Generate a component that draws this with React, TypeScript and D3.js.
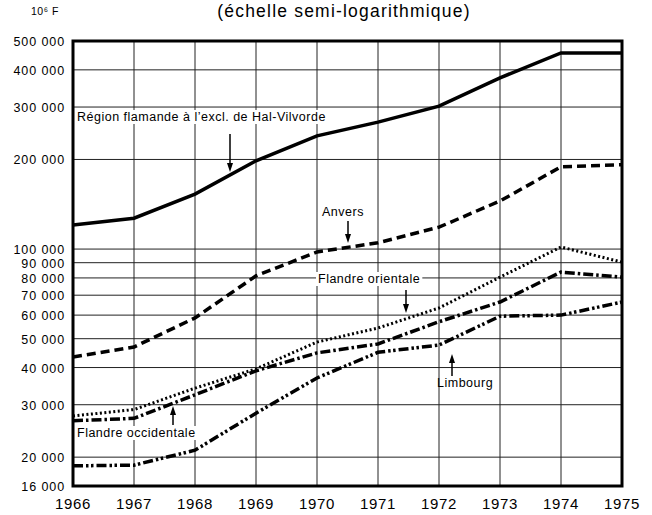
import { useEffect, useRef } from 'react';
import * as d3 from 'd3';

const years = [1966, 1967, 1968, 1969, 1970, 1971, 1972, 1973, 1974, 1975];
const yTicks = [16000, 20000, 30000, 40000, 50000, 60000, 70000, 80000, 90000, 100000, 200000, 300000, 400000, 500000];

const flamande = [120500, 127000, 153000, 198000, 240000, 267000, 302000, 376000, 456000, 456000];
const anvers = [43400, 46900, 58700, 81300, 97800, 105000, 118500, 145000, 189000, 192000];
const orientale = [27500, 28900, 34100, 39600, 48700, 54300, 63400, 80500, 101600, 90400];
const occidentale = [26500, 27000, 32400, 39000, 44800, 48000, 57000, 66400, 83700, 80500];
const limbourg = [18700, 18800, 21100, 28100, 36900, 45000, 47600, 59500, 60000, 66400];

const series = [
    { name: 'flamande', values: flamande, dash: null, width: 3.5 },
    { name: 'anvers', values: anvers, dash: '9,5', width: 3.5 },
    { name: 'orientale', values: orientale, dash: '2,2.5', width: 3 },
    { name: 'occidentale', values: occidentale, dash: '10,3,2.5,3', width: 3.5 },
    { name: 'limbourg', values: limbourg, dash: '10,3,2.5,2.5,2.5,3', width: 3.5 },
];

const fmt = (v: number) => d3.format(',')(v).replace(/,/g, ' ');

export default function App() {
    const ref = useRef<SVGSVGElement>(null);

    useEffect(() => {
        const svg = d3.select(ref.current);
        svg.selectAll('*').remove();
        const font = "'Liberation Sans', Arial, sans-serif";

        const left = 73, right = 622, top = 41, bottom = 486;
        const x = d3.scaleLinear().domain([1966, 1975]).range([left, right]);
        const y = d3.scaleLog().domain([16000, 500000]).range([bottom, top]);

        const g = svg.append('g');

        // grid
        g.selectAll('.vgrid').data(years.slice(1, -1)).join('line')
            .attr('x1', d => x(d)).attr('x2', d => x(d))
            .attr('y1', top).attr('y2', bottom)
            .attr('stroke', '#222').attr('stroke-width', 1);
        g.selectAll('.hgrid').data(yTicks.slice(1, -1)).join('line')
            .attr('x1', left).attr('x2', right)
            .attr('y1', d => y(d)).attr('y2', d => y(d))
            .attr('stroke', '#222').attr('stroke-width', 1);

        // frame
        g.append('rect')
            .attr('x', left).attr('y', top)
            .attr('width', right - left).attr('height', bottom - top)
            .attr('fill', 'none').attr('stroke', '#000').attr('stroke-width', 3);

        // y labels
        g.selectAll('.ylab').data(yTicks).join('text')
            .attr('x', 65).attr('y', d => y(d) + 5)
            .attr('text-anchor', 'end')
            .attr('font-family', font).attr('font-size', 12.5)
            .attr('letter-spacing', 0.9)
            .text(d => fmt(d));

        // x labels
        g.selectAll('.xlab').data(years).join('text')
            .attr('x', d => x(d)).attr('y', 509)
            .attr('text-anchor', 'middle')
            .attr('font-family', font).attr('font-size', 15)
            .attr('letter-spacing', 0.6)
            .text(d => d);

        // lines
        const line = d3.line<number>()
            .x((d, i) => x(years[i]))
            .y(d => y(d));

        series.forEach(s => {
            g.append('path')
                .datum(s.values)
                .attr('fill', 'none')
                .attr('stroke', '#000')
                .attr('stroke-width', s.width)
                .attr('stroke-dasharray', s.dash)
                .attr('d', line);
        });

        // labels with arrows
        const labels = [
            { text: "Région flamande à l\u2019excl. de Hal-Vilvorde", tx: 77, ty: 121, ax: 230, ay1: 134, ay2: 172, bg: true },
            { text: 'Anvers', tx: 322, ty: 216, ax: 348, ay1: 221, ay2: 243, bg: false },
            { text: 'Flandre orientale', tx: 318, ty: 283, ax: 406, ay1: 290, ay2: 313, bg: true },
            { text: 'Limbourg', tx: 437, ty: 387, ax: 452, ay1: 376, ay2: 354, bg: false },
            { text: 'Flandre occidentale', tx: 77, ty: 437, ax: 173, ay1: 425, ay2: 406, bg: true },
        ];

        labels.forEach(l => {
            const t = g.append('text')
                .attr('x', l.tx).attr('y', l.ty)
                .attr('font-family', font).attr('font-size', 12.5)
                .attr('letter-spacing', 0.5)
                .text(l.text);
            if (l.bg) {
                const b = (t.node() as SVGTextElement).getBBox();
                g.insert('rect', () => t.node())
                    .attr('x', b.x - 2).attr('y', b.y)
                    .attr('width', b.width + 4).attr('height', b.height)
                    .attr('fill', '#fff');
            }
            const dir = l.ay2 > l.ay1 ? 1 : -1;
            g.append('line')
                .attr('x1', l.ax).attr('x2', l.ax)
                .attr('y1', l.ay1).attr('y2', l.ay2 - dir * 8)
                .attr('stroke', '#000').attr('stroke-width', 1.5);
            g.append('path')
                .attr('d', `M${l.ax - 3},${l.ay2 - dir * 9} L${l.ax},${l.ay2} L${l.ax + 3},${l.ay2 - dir * 9} Z`)
                .attr('fill', '#000');
        });

        // title
        svg.append('text')
            .attr('x', 344).attr('y', 17)
            .attr('text-anchor', 'middle')
            .attr('font-family', font).attr('font-size', 17.5)
            .attr('letter-spacing', 1.2)
            .text('(échelle semi-logarithmique)');
        svg.append('text')
            .attr('x', 31).attr('y', 15)
            .attr('font-family', font).attr('font-size', 10.5)
            .attr('letter-spacing', 0.5)
            .text('10\u2076 F');
    }, []);

    return (
        <svg ref={ref} width={652} height={515}
            style={{ position: 'absolute', left: 0, top: 0, background: '#fff' }} />
    );
}
